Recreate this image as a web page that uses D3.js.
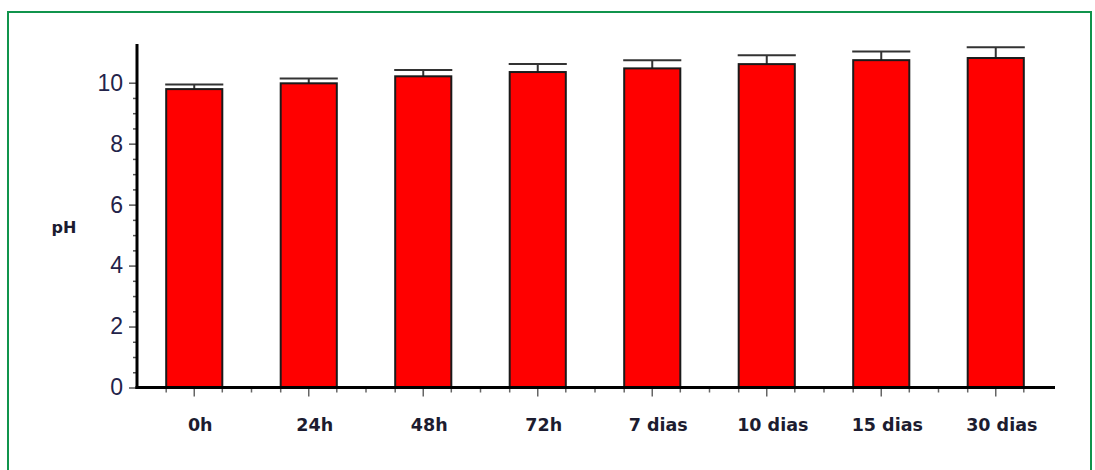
<!DOCTYPE html>
<html>
<head>
<meta charset="utf-8">
<script src="https://cdn.jsdelivr.net/npm/d3@7"></script>
<style>
  html, body { margin: 0; padding: 0; background: #fff; }
  svg { display: block; }
</style>
</head>
<body>
<svg id="chart" width="1095" height="470"></svg>
<script>
// pH over time (mean with upper error bar)
const categories = ["0h", "24h", "48h", "72h", "7 dias", "10 dias", "15 dias", "30 dias"];
const phMean = [9.79, 9.98, 10.21, 10.35, 10.47, 10.61, 10.74, 10.81];
const phError = [0.15, 0.16, 0.21, 0.26, 0.27, 0.29, 0.28, 0.35];
const yTickValues = [0, 2, 4, 6, 8, 10];
const yMinorTickValues = d3.range(0, 10.01, 0.5);
const yLabel = "pH";

const svg = d3.select("#chart");

// outer frame
svg.append("rect")
  .attr("x", 8).attr("y", 12)
  .attr("width", 1083).attr("height", 480)
  .attr("fill", "none")
  .attr("stroke", "#10944c")
  .attr("stroke-width", 2);

const x0 = 137, x1 = 1053, yBase = 387.5, yTop = 44;

const x = d3.scaleBand().domain(categories).range([x0, x1]).padding(0);
const y = d3.scaleLinear().domain([0, 11.27]).range([yBase, yTop]);
const barW = x.bandwidth() * 0.49;

const data = categories.map((c, i) => ({ c, v: phMean[i], e: phError[i] }));

// error bars (upper only)
const err = svg.append("g").attr("stroke", "#333").attr("stroke-width", 2);
err.selectAll("line.stem").data(data).join("line")
  .attr("class", "stem")
  .attr("x1", d => x(d.c) + x.bandwidth() / 2)
  .attr("x2", d => x(d.c) + x.bandwidth() / 2)
  .attr("y1", d => y(d.v))
  .attr("y2", d => y(d.v + d.e));
err.selectAll("line.cap").data(data).join("line")
  .attr("class", "cap")
  .attr("x1", d => x(d.c) + x.bandwidth() / 2 - barW / 2 - 1)
  .attr("x2", d => x(d.c) + x.bandwidth() / 2 + barW / 2 + 1)
  .attr("y1", d => y(d.v + d.e))
  .attr("y2", d => y(d.v + d.e));

// bars
svg.append("g").selectAll("rect").data(data).join("rect")
  .attr("x", d => x(d.c) + x.bandwidth() / 2 - barW / 2)
  .attr("y", d => y(d.v))
  .attr("width", barW)
  .attr("height", d => y(0) - y(d.v))
  .attr("fill", "#ff0000")
  .attr("stroke", "#1a1a1a")
  .attr("stroke-width", 2);

// y axis: major ticks, minor ticks, labels
const yAxis = d3.axisLeft(y).tickValues(yTickValues).tickSize(8).tickPadding(6).tickFormat(d3.format("d"));
const gy = svg.append("g").attr("transform", `translate(${x0},0)`).call(yAxis);
gy.select(".domain").remove();
gy.selectAll(".tick line").attr("stroke", "#555").attr("stroke-width", 1.5);
gy.selectAll(".tick text")
  .attr("font-family", "'Liberation Sans', Arial, sans-serif")
  .attr("font-size", 23)
  .attr("fill", "#23234a");

const gyMinor = svg.append("g").attr("transform", `translate(${x0},0)`)
  .call(d3.axisLeft(y).tickValues(yMinorTickValues.filter(v => !yTickValues.includes(v))).tickSize(4).tickFormat(""));
gyMinor.select(".domain").remove();
gyMinor.selectAll(".tick line").attr("stroke", "#555").attr("stroke-width", 1.5);

// x axis: ticks at bar centres, short ticks at bar edges and band borders
const gx = svg.append("g").attr("transform", `translate(0,${yBase})`)
  .call(d3.axisBottom(x).tickSize(9).tickPadding(22));
gx.select(".domain").remove();
gx.selectAll(".tick line").attr("stroke", "#666").attr("stroke-width", 1.5);
gx.selectAll(".tick text")
  .attr("dx", 6)
  .attr("font-family", "'DejaVu Sans', Verdana, sans-serif")
  .attr("font-weight", "bold")
  .attr("font-size", 17.5)
  .attr("fill", "#1c1c30");

const minorX = [];
categories.forEach((c, i) => {
  const cx = x(c) + x.bandwidth() / 2;
  minorX.push(cx - barW / 2, cx + barW / 2);
  if (i > 0) minorX.push(x(c));
});
svg.append("g").selectAll("line").data(minorX).join("line")
  .attr("x1", d => d).attr("x2", d => d)
  .attr("y1", yBase).attr("y2", yBase + 5)
  .attr("stroke", "#666").attr("stroke-width", 1.5);

// axis lines
svg.append("line")
  .attr("x1", x0).attr("x2", x0)
  .attr("y1", yTop).attr("y2", yBase + 1.5)
  .attr("stroke", "#000").attr("stroke-width", 3);
svg.append("line")
  .attr("x1", x0 - 1.5).attr("x2", x1 + 2)
  .attr("y1", yBase).attr("y2", yBase)
  .attr("stroke", "#000").attr("stroke-width", 3);

// y axis title
svg.append("text")
  .attr("x", 64).attr("y", 233)
  .attr("text-anchor", "middle")
  .attr("font-family", "'DejaVu Sans', Verdana, sans-serif")
  .attr("font-weight", "bold")
  .attr("font-size", 16)
  .attr("fill", "#1c1c30")
  .text(yLabel);
</script>
</body>
</html>
